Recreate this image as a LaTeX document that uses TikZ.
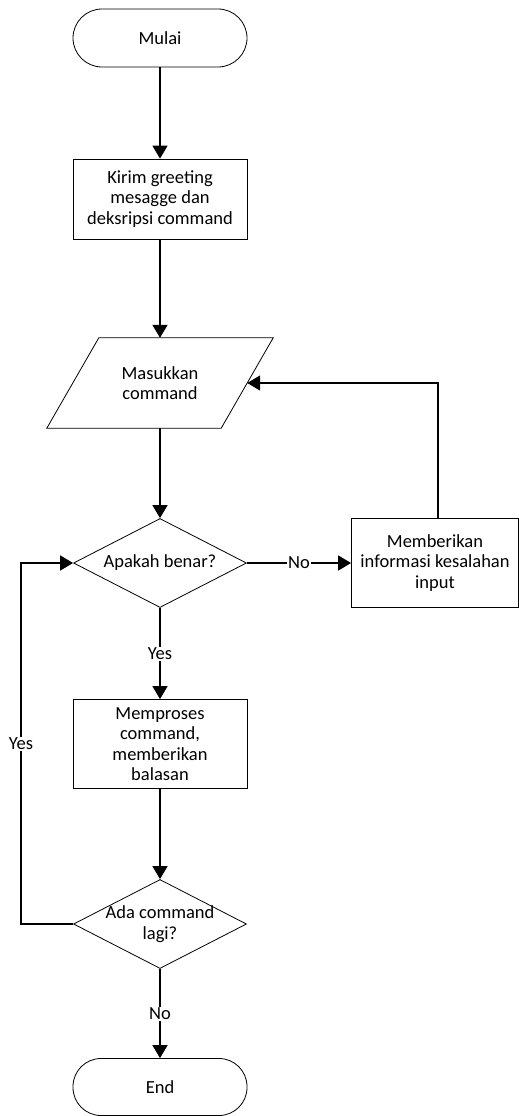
\documentclass[tikz,border=0pt]{standalone}
\usepackage{fontspec}
\setmainfont{Carlito}
\usetikzlibrary{arrows.meta,shapes.geometric}

\begin{document}
\begin{tikzpicture}[x=1pt, y=-1pt, every node/.style={font=\fontsize{18.5}{20.5}\selectfont, align=center}, >={Triangle[length=13pt,width=15pt]},
	shapeline/.style={draw, line width=0.8pt},
	terminal/.style={shapeline, rectangle, rounded corners=29pt, minimum width=174pt, minimum height=58pt},
	process/.style={shapeline, rectangle, minimum width=174pt, minimum height=89pt},
	io/.style={rectangle, minimum width=174pt, minimum height=90pt},
	decision/.style={shapeline, diamond, inner sep=0pt, minimum width=173pt, minimum height=89pt},
	flowline/.style={->, line width=1.6pt},
	answer/.style={fill=white, inner sep=1pt}]
	\useasboundingbox (0,0) rectangle (519,1116);
	\node[terminal] (start) at (160,38) {Mulai};
	\node[process, minimum height=80pt] (greet) at (160,199) {Kirim greeting\\mesagge dan\\deksripsi command};
	\node[io] (inp) at (160,383) {Masukkan\\command};
	\draw[shapeline] ([xshift=-26pt]inp.south west) -- ([xshift=-26pt]inp.south east) -- ([xshift=26pt]inp.north east) -- ([xshift=26pt]inp.north west) -- cycle;
	\node[decision, label={center:Apakah benar?}] (chk) at (160,563) {};
	\node[process, minimum width=167pt] (err) at (435,563) {Memberikan\\informasi kesalahan\\input};
	\node[process] (proc) at (160,744) {Memproses\\command,\\memberikan\\balasan};
	\node[decision, label={center:Ada command\\lagi?}] (more) at (160,924) {};
	\node[terminal, minimum height=57pt, rounded corners=28pt] (stop) at (160,1087) {End};
	\coordinate (back) at (21,924);
	\draw[flowline] (start) -- (greet);
	\draw[flowline] (greet) -- (inp);
	\draw[flowline] (inp) -- (chk);
	\draw[flowline] (chk) -- node[answer] {No} (err);
	\draw[flowline] ([xshift=3pt]err.north) |- (inp.east);
	\draw[flowline] (chk) -- node[answer] {Yes} (proc);
	\draw[flowline] (proc) -- (more);
	\draw[flowline] (more) -- node[answer] {No} (stop);
	\draw[flowline] (more.west) -- (back) |- node[answer, pos=0.25] {Yes} (chk.west);
\end{tikzpicture}
\end{document}
